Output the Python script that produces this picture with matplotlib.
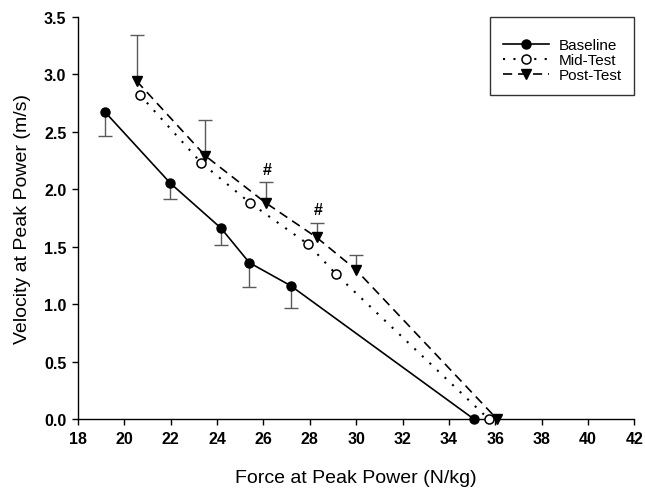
import matplotlib
matplotlib.use("Agg")
import matplotlib.pyplot as plt
import numpy as np

plt.rcParams['font.family'] = ['Liberation Sans', 'DejaVu Sans']

# values
baseline_x = [19.17, 21.99, 24.17, 25.39, 27.17, 35.07]
baseline_y = [2.67, 2.05, 1.66, 1.36, 1.16, 0.0]
baseline_err = [0.21, 0.135, 0.15, 0.21, 0.19, 0.0]   # drawn downward

mid_x = [20.67, 23.31, 25.42, 27.93, 29.13, 35.71]
mid_y = [2.82, 2.23, 1.88, 1.52, 1.26, 0.0]

post_x = [20.53, 23.49, 26.10, 28.29, 29.98, 36.07]
post_y = [2.94, 2.29, 1.88, 1.58, 1.30, 0.0]
post_err = [0.40, 0.31, 0.18, 0.125, 0.13, 0.0]      # drawn upward
post_sig = [False, False, True, True, False, False]   # '#' marks

xticks = np.arange(18, 43, 2)
yticks = np.arange(0, 3.6, 0.5)

fig = plt.figure(figsize=(6.45, 4.89), dpi=100)
ax = fig.add_axes([0.1209, 0.1411, 0.8628, 0.8227])

ebcolor = '#5a5a5a'

# baseline: lower bars only
bx, by, be = np.array(baseline_x), np.array(baseline_y), np.array(baseline_err)
m = be > 0
_, caps, _ = ax.errorbar(bx[m], by[m], yerr=[be[m], np.zeros(m.sum())], fmt='none',
                         ecolor=ebcolor, elinewidth=1.0, capsize=4.7, capthick=1.0, zorder=2)
caps[1].set_visible(False)

# post-test: upper bars only
px, py, pe = np.array(post_x), np.array(post_y), np.array(post_err)
m = pe > 0
_, caps, _ = ax.errorbar(px[m], py[m], yerr=[np.zeros(m.sum()), pe[m]], fmt='none',
                         ecolor=ebcolor, elinewidth=1.0, capsize=4.7, capthick=1.0, zorder=2)
caps[0].set_visible(False)

ax.plot(baseline_x, baseline_y, color='black', lw=1.2, marker='o', ms=6.5,
        mfc='black', mec='black', label='Baseline', zorder=4, clip_on=False)
ax.plot(mid_x, mid_y, color='black', lw=1.5, linestyle=(0, (1, 4)), marker='o', ms=6.5,
        mfc='white', mec='black', mew=1.1, label='Mid-Test', zorder=4, clip_on=False)
ax.plot(post_x, post_y, color='black', lw=1.2, linestyle=(0, (5.5, 3.5)), marker='v', ms=7.5,
        mfc='black', mec='black', label='Post-Test', zorder=4, clip_on=False)

for x, y, e, s in zip(post_x, post_y, post_err, post_sig):
    if s:
        ax.annotate('#', (x, y + e), xytext=(1, 9.5), textcoords='offset points',
                    ha='center', va='center', fontsize=11.5, fontweight='bold')

ax.set_xlim(18, 42)
ax.set_ylim(0, 3.5)
ax.set_xticks(xticks)
ax.set_yticks(yticks)
ax.set_xticklabels([f'{v:d}' for v in xticks], fontsize=11.5, fontweight='bold')
ax.set_yticklabels([f'{v:.1f}' for v in yticks], fontsize=11.5, fontweight='bold')
ax.tick_params(direction='out', length=4.3, width=1.0, pad=4)

for s in ['top', 'right']:
    ax.spines[s].set_visible(False)
for s in ['left', 'bottom']:
    ax.spines[s].set_linewidth(1.0)

ax.set_xlabel('Force at Peak Power (N/kg)', fontsize=14, labelpad=17)
ax.set_ylabel('Velocity at Peak Power (m/s)', fontsize=14, labelpad=9)

leg = ax.legend(loc='upper right', bbox_to_anchor=(1.0, 1.0), borderaxespad=0,
                fontsize=11, frameon=True, fancybox=False, edgecolor='black',
                handlelength=3.0, handletextpad=0.6, labelspacing=0.08,
                borderpad=0.85, title=' ', title_fontsize=6)
leg.get_frame().set_linewidth(1.0)

fig.savefig('out.png', dpi=100)
